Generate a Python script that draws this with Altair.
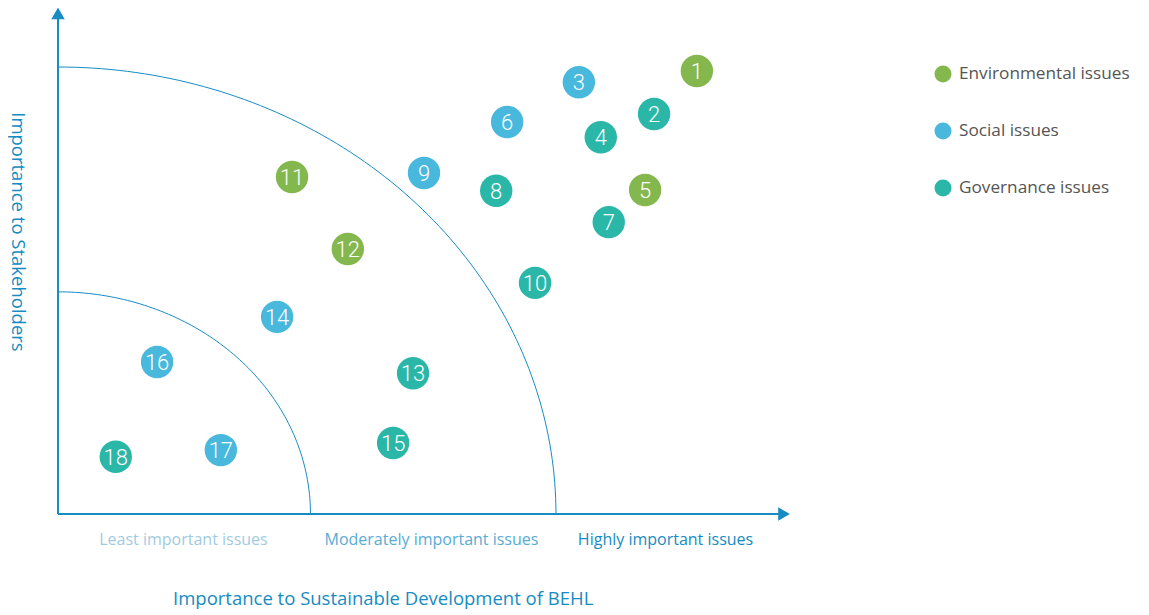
import altair as alt
import pandas as pd

# ---- data ----
issue_ids = list(range(1, 19))
dev_importance = [12.83, 11.97, 10.46, 10.90, 11.79, 9.02, 11.06, 8.80, 7.35,
                  9.58, 4.70, 5.82, 7.13, 4.40, 6.73, 1.99, 3.27, 1.16]
stake_importance = [9.91, 8.95, 9.66, 8.43, 7.25, 8.77, 6.53, 7.23, 7.63,
                    5.17, 7.54, 5.93, 3.15, 4.41, 1.59, 3.40, 1.43, 1.28]
category = ["Environmental issues", "Governance issues", "Social issues",
            "Governance issues", "Environmental issues", "Social issues",
            "Governance issues", "Governance issues", "Social issues",
            "Governance issues", "Environmental issues", "Environmental issues",
            "Governance issues", "Social issues", "Governance issues",
            "Social issues", "Social issues", "Governance issues"]
cat_order = ["Environmental issues", "Social issues", "Governance issues"]
cat_colors = ["#84b84f", "#48b8dd", "#2bb7a8"]

zone_labels = ["Least important issues", "Moderately important issues", "Highly important issues"]
zone_centers = [2.52, 7.5, 12.2]
zone_colors = ["#9fcbe2", "#59acd5", "#168cc2"]
arc_radii_x = [5.07, 10]
arc_radii_y = [4.97, 10]

X_MAX = 14.7
Y_MAX = 11.32
AXIS_COLOR = "#168cc2"

df = pd.DataFrame({"id": issue_ids, "x": dev_importance, "y": stake_importance,
                   "cat": category})

xs = alt.Scale(domain=[0, X_MAX], nice=False, zero=False)
ys = alt.Scale(domain=[0, Y_MAX], nice=False, zero=False)
X = lambda f: alt.X(f, scale=xs, axis=None)
Y = lambda f: alt.Y(f, scale=ys, axis=None)

# axes lines
axes_df = pd.DataFrame({"x": [0, 0], "y": [0, 0], "x2": [X_MAX - 0.15, 0],
                        "y2": [0, Y_MAX - 0.12]})
axes = alt.Chart(axes_df).mark_rule(color=AXIS_COLOR, strokeWidth=2, clip=False).encode(
    x=X("x:Q"), y=Y("y:Q"), x2="x2:Q", y2="y2:Q")

arrow_x = alt.Chart(pd.DataFrame({"x": [X_MAX - 0.12], "y": [0]})).mark_point(
    shape="triangle-right", filled=True, size=180, color=AXIS_COLOR, opacity=1, clip=False
).encode(x=X("x:Q"), y=Y("y:Q"))
arrow_y = alt.Chart(pd.DataFrame({"x": [0], "y": [Y_MAX - 0.12]})).mark_point(
    shape="triangle-up", filled=True, size=180, color=AXIS_COLOR, opacity=1, clip=False
).encode(x=X("x:Q"), y=Y("y:Q"))

# quarter arcs (decoration generated by the library)
arc_layers = []
for rx, ry in zip(arc_radii_x, arc_radii_y):
    a = alt.Chart(alt.sequence(0, 90.5, 1, as_="deg")).transform_calculate(
        ax=f"{rx} * cos(datum.deg * PI / 180)",
        ay=f"{ry} * sin(datum.deg * PI / 180)"
    ).mark_line(color=AXIS_COLOR, strokeWidth=1, clip=False).encode(
        x=X("ax:Q"), y=Y("ay:Q"), order="deg:Q")
    arc_layers.append(a)

points = alt.Chart(df).mark_circle(size=1050, opacity=1).encode(
    x=X("x:Q"), y=Y("y:Q"),
    color=alt.Color("cat:N", scale=alt.Scale(domain=cat_order, range=cat_colors),
                    legend=alt.Legend(title=None, orient="none", legendX=876, legendY=57,
                                      padding=0, symbolSize=290, symbolType="circle",
                                      labelFontSize=17.2, labelFont="Open Sans",
                                      labelColor="#555555", rowPadding=39,
                                      labelOffset=7, symbolStrokeWidth=0,
                                      labelLimit=300))
)
labels = alt.Chart(df).mark_text(color="white", fontSize=22, font="Roboto",
                                 fontWeight=300, baseline="middle", align="center",
                                 dy=1).encode(
    x=X("x:Q"), y=Y("y:Q"), text="id:N")

zones = alt.Chart(pd.DataFrame({"x": zone_centers, "t": zone_labels, "c": zone_colors,
                                "y": [-0.58] * 3})).mark_text(
    fontSize=16, font="Open Sans", baseline="middle", clip=False).encode(
    x=X("x:Q"), y=Y("y:Q"), text="t:N", color=alt.Color("c:N", scale=None))

xtitle = alt.Chart(pd.DataFrame({"x": [6.53], "y": [-1.9],
                                 "t": ["Importance to Sustainable Development of BEHL"]})).mark_text(
    fontSize=18.5, font="Open Sans", color=AXIS_COLOR, baseline="middle", clip=False).encode(
    x=X("x:Q"), y=Y("y:Q"), text="t:N")

ytitle = alt.Chart(pd.DataFrame({"x": [-0.8], "y": [6.31],
                                 "t": ["Importance to Stakeholders"]})).mark_text(
    fontSize=18.5, font="Open Sans", color=AXIS_COLOR, baseline="middle", angle=90,
    clip=False).encode(
    x=X("x:Q"), y=Y("y:Q"), text="t:N")

chart = alt.layer(*arc_layers, axes, arrow_x, arrow_y, points, labels, zones, xtitle,
                  ytitle).properties(
    width=732, height=506,
    padding={"left": 50, "top": 0, "right": 350, "bottom": 95},
    autosize=alt.AutoSizeParams(type="none")
).configure_view(stroke=None)

chart.save("out.html", embed_options={"renderer": "svg", "actions": False})
